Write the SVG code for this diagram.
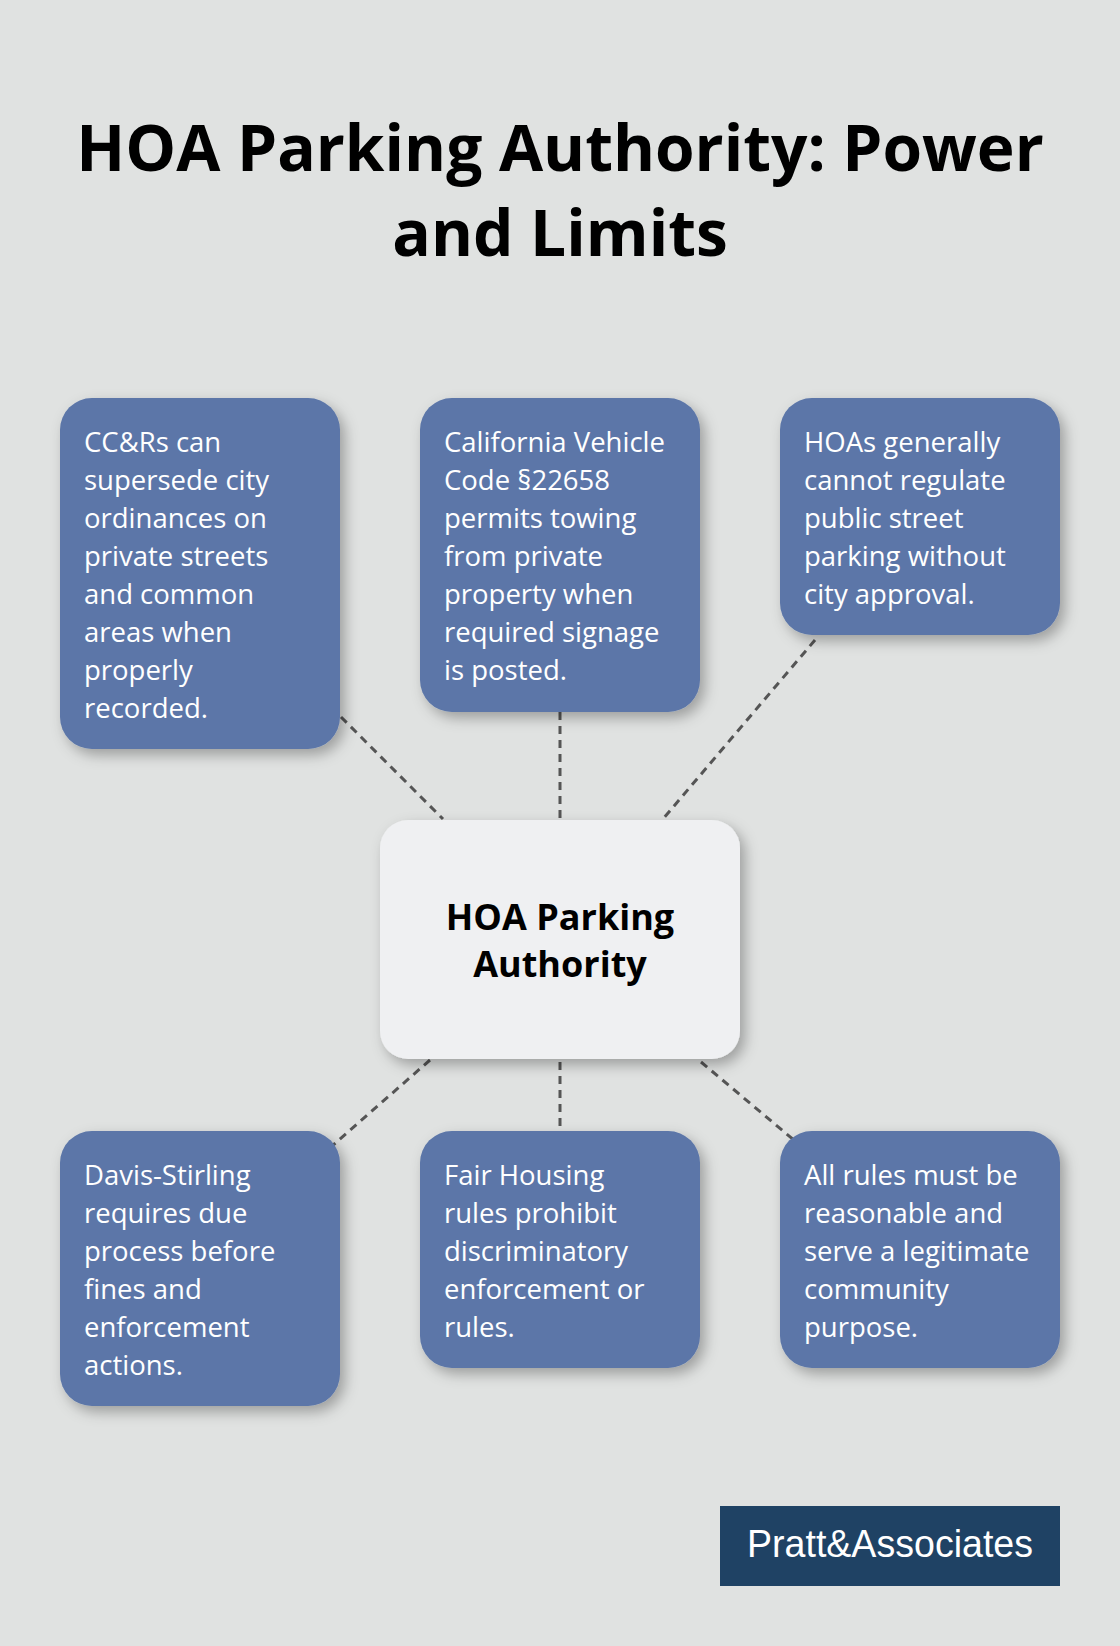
<svg xmlns="http://www.w3.org/2000/svg" width="1120" height="1646" viewBox="0 0 1120 1646">
<defs>
<filter id="sh" x="-20%" y="-20%" width="150%" height="150%"><feDropShadow dx="5" dy="6" stdDeviation="7" flood-color="#000" flood-opacity="0.3"/></filter>
<style>
.b{fill:#5b76a8;filter:url(#sh)}
.t{font-family:"Open Sans","Noto Sans",sans-serif;font-size:27.5px;fill:#fff}
.h{font-family:"Open Sans","Noto Sans",sans-serif;font-weight:bold;fill:#000;text-anchor:middle}
.c{stroke:#555;stroke-width:3;stroke-dasharray:8 6;fill:none}
</style>
</defs>
<rect width="1120" height="1646" fill="#e0e2e1"/>
<text class="h" font-size="64" x="560" y="171">HOA Parking Authority: Power</text>
<text class="h" font-size="64" x="560" y="256">and Limits</text>
<g id="connectors">
<line class="c" x1="341" y1="717" x2="443" y2="819"/>
<line class="c" x1="560" y1="712" x2="560" y2="818"/>
<line class="c" x1="815" y1="640" x2="663" y2="819"/>
<line class="c" x1="430" y1="1060" x2="331" y2="1147"/>
<line class="c" x1="560" y1="1062" x2="560" y2="1128"/>
<line class="c" x1="701" y1="1062" x2="795" y2="1141"/>
</g>
<g id="center"><rect x="380" y="820" width="360" height="239" rx="28" fill="#eff0f2" filter="url(#sh)"/>
<text class="h" font-size="36" x="560" y="930">HOA Parking</text><text class="h" font-size="36" x="560" y="977">Authority</text></g>
<g id="n1"><rect class="b" x="60" y="398" width="280" height="351" rx="32"/>
<text class="t" x="84" y="452">CC&amp;Rs can<tspan x="84" dy="38">supersede city</tspan><tspan x="84" dy="38">ordinances on</tspan><tspan x="84" dy="38">private streets</tspan><tspan x="84" dy="38">and common</tspan><tspan x="84" dy="38">areas when</tspan><tspan x="84" dy="38">properly</tspan><tspan x="84" dy="38">recorded.</tspan></text></g>
<g id="n2"><rect class="b" x="420" y="398" width="280" height="314" rx="32"/>
<text class="t" x="444" y="452">California Vehicle<tspan x="444" dy="38">Code §22658</tspan><tspan x="444" dy="38">permits towing</tspan><tspan x="444" dy="38">from private</tspan><tspan x="444" dy="38">property when</tspan><tspan x="444" dy="38">required signage</tspan><tspan x="444" dy="38">is posted.</tspan></text></g>
<g id="n3"><rect class="b" x="780" y="398" width="280" height="237" rx="32"/>
<text class="t" x="804" y="452">HOAs generally<tspan x="804" dy="38">cannot regulate</tspan><tspan x="804" dy="38">public street</tspan><tspan x="804" dy="38">parking without</tspan><tspan x="804" dy="38">city approval.</tspan></text></g>
<g id="n4"><rect class="b" x="60" y="1131" width="280" height="275" rx="32"/>
<text class="t" x="84" y="1185">Davis-Stirling<tspan x="84" dy="38">requires due</tspan><tspan x="84" dy="38">process before</tspan><tspan x="84" dy="38">fines and</tspan><tspan x="84" dy="38">enforcement</tspan><tspan x="84" dy="38">actions.</tspan></text></g>
<g id="n5"><rect class="b" x="420" y="1131" width="280" height="237" rx="32"/>
<text class="t" x="444" y="1185">Fair Housing<tspan x="444" dy="38">rules prohibit</tspan><tspan x="444" dy="38">discriminatory</tspan><tspan x="444" dy="38">enforcement or</tspan><tspan x="444" dy="38">rules.</tspan></text></g>
<g id="n6"><rect class="b" x="780" y="1131" width="280" height="237" rx="32"/>
<text class="t" x="804" y="1185">All rules must be<tspan x="804" dy="38">reasonable and</tspan><tspan x="804" dy="38">serve a legitimate</tspan><tspan x="804" dy="38">community</tspan><tspan x="804" dy="38">purpose.</tspan></text></g>
<g id="logo"><rect x="720" y="1506" width="340" height="80" fill="#1f4264"/>
<text x="890" y="1557" text-anchor="middle" font-family="'Liberation Sans',sans-serif" font-size="38" fill="#fff" textLength="286" lengthAdjust="spacingAndGlyphs">Pratt&amp;Associates</text></g>
</svg>
